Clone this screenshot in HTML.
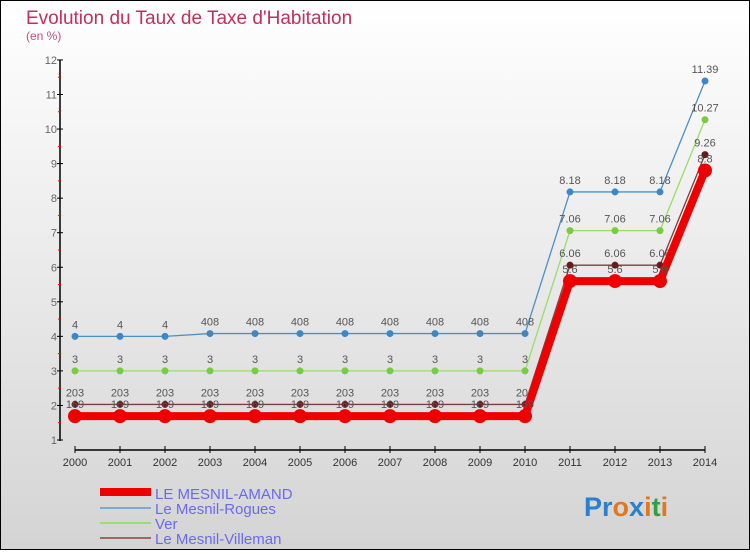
<!DOCTYPE html>
<html><head><meta charset="utf-8"><style>
body{margin:0}
svg text{font-family:"Liberation Sans",sans-serif}
</style></head><body>
<svg width="750" height="550" viewBox="0 0 750 550" xmlns="http://www.w3.org/2000/svg">
<defs><linearGradient id="bg" x1="0" y1="0" x2="0" y2="1"><stop offset="0" stop-color="#ffffff"/><stop offset="1" stop-color="#d4d4d4"/></linearGradient></defs>
<rect x="0.5" y="0.5" width="749" height="549" fill="url(#bg)" stroke="#000"/>
<text x="26" y="24" font-size="19" fill="#c0305a">Evolution du Taux de Taxe d'Habitation</text>
<text x="26" y="40" font-size="12" fill="#c0507a">(en %)</text>
<g id="axes"></g>
<g id="series"></g>
<g>
<line x1="100" y1="492" x2="151" y2="492" stroke="#ee0000" stroke-width="8"/>
<text x="155" y="499" font-size="15" fill="#6a6aee">LE MESNIL-AMAND</text>
<line x1="100" y1="508" x2="151" y2="508" stroke="#7aaccc" stroke-width="2"/>
<text x="155" y="514" font-size="15" fill="#6a6aee">Le Mesnil-Rogues</text>
<line x1="100" y1="523" x2="151" y2="523" stroke="#99dd77" stroke-width="2"/>
<text x="155" y="529" font-size="15" fill="#6a6aee">Ver</text>
<line x1="100" y1="538" x2="151" y2="538" stroke="#9a6868" stroke-width="2"/>
<text x="155" y="544" font-size="15" fill="#6a6aee">Le Mesnil-Villeman</text>
</g>
<text x="584" y="516" font-size="27" font-weight="bold"><tspan fill="#2a7fd0">Pr</tspan><tspan fill="#e07820">o</tspan><tspan fill="#2a7fd0">x</tspan><tspan fill="#e07820">i</tspan><tspan fill="#30a040">t</tspan><tspan fill="#e07820">i</tspan></text>
</svg>
<script>
const years=["2000","2001","2002","2003","2004","2005","2006","2007","2008","2009","2010","2011","2012","2013","2014"];
const amand=[1.69,1.69,1.69,1.69,1.69,1.69,1.69,1.69,1.69,1.69,1.69,5.6,5.6,5.6,8.8];
const rogues=[4,4,4,4.08,4.08,4.08,4.08,4.08,4.08,4.08,4.08,8.18,8.18,8.18,11.39];
const ver=[3,3,3,3,3,3,3,3,3,3,3,7.06,7.06,7.06,10.27];
const villeman=[2.03,2.03,2.03,2.03,2.03,2.03,2.03,2.03,2.03,2.03,2.03,6.06,6.06,6.06,9.26];
const yTicks=[1,2,3,4,5,6,7,8,9,10,11,12];
const NS="http://www.w3.org/2000/svg";
const X=i=>75+i*45, Y=v=>440-(v-1)*34.55;
function mk(tag,attrs,parent,txt){const e=document.createElementNS(NS,tag);for(const k in attrs)e.setAttribute(k,attrs[k]);if(txt!==undefined)e.textContent=txt;parent.appendChild(e);return e;}
const ax=document.getElementById('axes');
let e=mk('line',{x1:60,y1:60,x2:60,y2:441,stroke:'#000','stroke-width':1.5},ax);


e=mk('line',{x1:75,y1:450,x2:705,y2:450,stroke:'#000','stroke-width':1.5},ax);


yTicks.forEach(t=>{
  mk('line',{x1:57,y1:Y(t),x2:63,y2:Y(t),stroke:'#000'},ax);
  if(t<12)mk('line',{x1:58,y1:Y(t+0.5),x2:61,y2:Y(t+0.5),stroke:'#f00'},ax);
  e=mk('text',{x:57,y:Y(t)+4,'font-size':11,'text-anchor':'end',fill:'#666'},ax,String(t));
  
  
});
years.forEach((y,i)=>{
  mk('line',{x1:X(i),y1:446,x2:X(i),y2:453,stroke:'#000'},ax);
  e=mk('text',{x:X(i),y:466,'font-size':11,'text-anchor':'middle',fill:'#333'},ax,y);
  
  
});
const sg=document.getElementById('series');
// values below 10 with 2 decimals are printed without the dot for the early years, as in the source
function lbl(v,i){return (i<=10 && String(v).length===4)?String(v).replace('.',''):String(v);}
function draw(vals,color,w,r,ptColor,name){
  const g=mk('g',{},sg);
  
  
  const pl=mk('polyline',{points:vals.map((v,i)=>X(i)+','+Y(v)).join(' '),fill:'none',stroke:color,'stroke-width':w,'stroke-linejoin':'round'},g);
  
  
  vals.forEach((v,i)=>{
    const c=mk('circle',{cx:X(i),cy:Y(v),r:r,fill:ptColor},g);
    
    
    const t=mk('text',{x:X(i),y:Y(v)-8,'font-size':11,'text-anchor':'middle',fill:'#555'},g,lbl(v,i));
    
    
  });
}
draw(rogues,'#4a90c8',1.3,3.5,'#3a88c8','le-mesnil-rogues');
draw(ver,'#99dd66',1.3,3.5,'#77cc44','ver');
draw(villeman,'#7a4040',1.3,3.5,'#6a1a1a','le-mesnil-villeman');
draw(amand,'#ee0000',8,7,'#ee0000','le-mesnil-amand');
</script>
</body></html>
